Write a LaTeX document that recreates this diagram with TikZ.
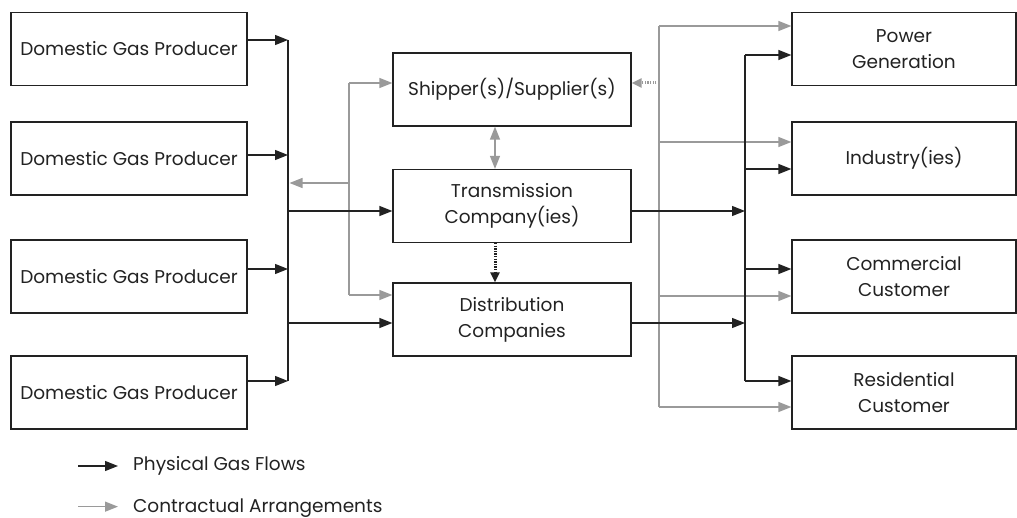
\documentclass[tikz,border=0pt]{standalone}
\usepackage{fontspec}
\setmainfont{Poppins}
\usepackage{tikz}
\usetikzlibrary{arrows.meta}
\usetikzlibrary{positioning}
\definecolor{linedark}{HTML}{222222}
\definecolor{linegray}{HTML}{9A9A9A}
\tikzset{box/.style = {draw=linedark, line width=1.2pt, text=linedark,
                       minimum width=236pt, minimum height=73pt, inner sep=0pt,
                       align=center, font=\fontsize{18.5}{26}\selectfont},
         flow/.style = {draw=linedark, line width=1.3pt,
                        -{Triangle[length=13pt,width=10pt]}},
         flowline/.style = {draw=linedark, line width=1.3pt},
         flowdot/.style = {flow, dash pattern=on 1.3pt off 1.3pt, line width=3pt,
                           -{Triangle[length=10pt,width=9pt]}},
         contract/.style = {draw=linegray, line width=1.3pt,
                            -{Triangle[length=13pt,width=10pt]}},
         contractline/.style = {draw=linegray, line width=1.3pt},
         contractboth/.style = {contract,
                                {Triangle[length=13pt,width=10pt]}-{Triangle[length=13pt,width=10pt]}},
         contractdot/.style = {contract, dash pattern=on 1.3pt off 1.3pt, line width=3pt,
                               -{Triangle[length=10pt,width=9pt]}},
         legendtext/.style = {inner sep=0pt, text=linedark, font=\fontsize{18.5}{22}\selectfont}}

\begin{document}
\begin{tikzpicture}[x=1pt, y=-1pt]
    \useasboundingbox (0, 0) rectangle (1017, 518);
    % producers
    \node [box] (prod1) at (129, 49) {Domestic Gas Producer};
    \node [box] (prod2) at (129, 158.5) {Domestic Gas Producer};
    \node [box] (prod3) at (129, 276.5) {Domestic Gas Producer};
    \node [box] (prod4) at (129, 392.5) {Domestic Gas Producer};
    % middle column
    \node [box, minimum width=238pt] (ship) at (512, 89.5) {Shipper(s)/Supplier(s)};
    \node [box, minimum width=238pt] (trans) at (512, 206) {Transmission\\Company(ies)};
    \node [box, minimum width=238pt] (dist) at (512, 319.5) {Distribution\\Companies};
    % customers
    \node [box, minimum width=224pt] (power) at (904, 49) {Power\\Generation};
    \node [box, minimum width=224pt] (indus) at (904, 158.5) {Industry(ies)};
    \node [box, minimum width=224pt] (comm) at (904, 276.5) {Commercial\\Customer};
    \node [box, minimum width=224pt] (resid) at (904, 392.5) {Residential\\Customer};
    % bus lines
    \coordinate (lbus) at (288, 0);
    \coordinate (gbus) at (349, 0);
    \coordinate (rgbus) at (659, 0);
    \coordinate (rbus) at (745, 0);

    % contractual arrangements
    \draw [contractline] ([yshift=6.5pt]ship.west -| gbus) -- ([yshift=24.5pt]dist.west -| gbus);
    \draw [contract] ([yshift=6.5pt]ship.west -| gbus) -- ([yshift=6.5pt]ship.west);
    \draw [contract] ([yshift=24.5pt]dist.west -| gbus) -- ([yshift=24.5pt]dist.west);
    \draw [contract, shorten >=1.5pt] ([yshift=23pt]trans.west -| gbus) -- ([yshift=23pt]trans.west -| lbus);
    \draw [contractboth] ([xshift=-17pt]ship.south) -- ([xshift=-17pt]trans.north);
    \draw [contractline] ([yshift=23pt]power.west -| rgbus) -- ([yshift=-14.5pt]resid.west -| rgbus);
    \draw [contract] ([yshift=23pt]power.west -| rgbus) -- ([yshift=23pt]power.west);
    \draw [contract] ([yshift=16.5pt]indus.west -| rgbus) -- ([yshift=16.5pt]indus.west);
    \draw [contract] ([yshift=-19.5pt]comm.west -| rgbus) -- ([yshift=-19.5pt]comm.west);
    \draw [contract] ([yshift=-14.5pt]resid.west -| rgbus) -- ([yshift=-14.5pt]resid.west);
    \draw [contractdot] ([yshift=6.5pt]ship.east -| rgbus) -- ([yshift=6.5pt]ship.east);

    % physical gas flows
    \draw [flow] ([yshift=9pt]prod1.east) -- ([yshift=9pt]prod1.east -| lbus);
    \draw [flow] ([yshift=3.5pt]prod2.east) -- ([yshift=3.5pt]prod2.east -| lbus);
    \draw [flow] ([yshift=7.5pt]prod3.east) -- ([yshift=7.5pt]prod3.east -| lbus);
    \draw [flow] ([yshift=11.5pt]prod4.east) -- ([yshift=11.5pt]prod4.east -| lbus);
    \draw [flowline] ([yshift=9pt]prod1.east -| lbus) -- ([yshift=11.5pt]prod4.east -| lbus);
    \draw [flow] ([yshift=-5pt]trans.west -| lbus) -- ([yshift=-5pt]trans.west);
    \draw [flow] ([yshift=-3.5pt]dist.west -| lbus) -- ([yshift=-3.5pt]dist.west);
    \draw [flowdot] ([xshift=-17pt]trans.south) -- ([xshift=-17pt]dist.north);
    \draw [flow] ([yshift=-5pt]trans.east) -- ([yshift=-5pt]trans.east -| rbus);
    \draw [flow] ([yshift=-3.5pt]dist.east) -- ([yshift=-3.5pt]dist.east -| rbus);
    \draw [flowline] ([yshift=-6pt]power.west -| rbus) -- ([yshift=11.5pt]resid.west -| rbus);
    \draw [flow] ([yshift=-6pt]power.west -| rbus) -- ([yshift=-6pt]power.west);
    \draw [flow] ([yshift=-10.5pt]indus.west -| rbus) -- ([yshift=-10.5pt]indus.west);
    \draw [flow] ([yshift=7.5pt]comm.west -| rbus) -- ([yshift=7.5pt]comm.west);
    \draw [flow] ([yshift=11.5pt]resid.west -| rbus) -- ([yshift=11.5pt]resid.west);

    % legend
    \node [legendtext, anchor=west] (physlbl) at (133, 466) {Physical Gas Flows};
    \node [legendtext, anchor=base west] (contlbl) at (133, 512) {Contractual Arrangements};
    \draw [flow] ([xshift=-55pt]physlbl.west) -- ([xshift=-15pt]physlbl.west);
    \draw [contract] ([xshift=-55pt, yshift=1pt]contlbl.west) -- ([xshift=-15pt, yshift=1pt]contlbl.west);
  \end{tikzpicture}
\end{document}
